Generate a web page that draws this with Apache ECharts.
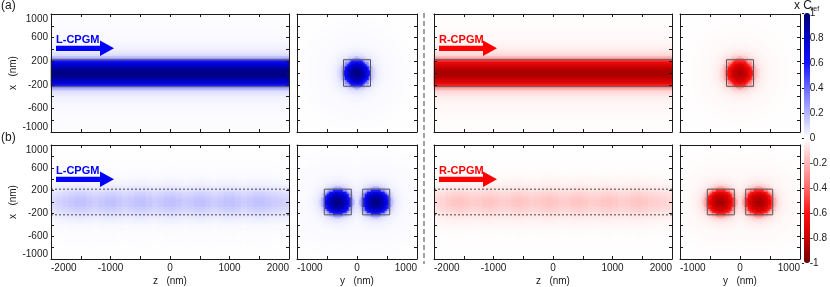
<!DOCTYPE html>
<html><head><meta charset="utf-8">
<script src="https://cdn.jsdelivr.net/npm/echarts@6/dist/echarts.min.js"></script>
<style>html,body{margin:0;padding:0;background:#fff}#c{width:830px;height:287px}</style>
</head><body><div id="c"></div><script>
// ================= DATA =================
const zTickLabels = [-2000, -1000, 0, 1000, 2000];        // z (nm) labels, band panels
const yTickLabels = [-1000, 0, 1000];                     // y (nm) labels, cross-section panels
const xTickLabels = [-1000, -600, -200, 200, 600, 1000];  // x (nm) labels
const cbarTickLabels = [-1, -0.8, -0.6, -0.4, -0.2, 0, 0.2, 0.4, 0.6, 0.8, 1];

const guideHalfWidth = 225;        // nm, waveguide half width (outlines)
const singleCenter = [0];          // nm, single guide centre (row a)
const pairCenters = [-320, 320];   // nm, two guides centre (row b)

// transverse profiles of the band panels, |x| bins of 25 nm (0-25, 25-50, ...)
const bandA_L = [0.95,0.94,0.92,0.89,0.85,0.80,0.74,0.67,0.60,0.30,0.19,0.13,0.095,0.072,0.056,0.045,0.038,0.032,0.028,0.025,0.022,0.020,0.018,0.016,0.015,0.014,0.013,0.012,0.011,0.010,0.010,0.009,0.009,0.008,0.008,0.007,0.007,0.006,0.006,0.005];
const bandA_R = [-0.87,-0.86,-0.84,-0.82,-0.79,-0.75,-0.70,-0.64,-0.57,-0.32,-0.21,-0.15,-0.11,-0.085,-0.066,-0.053,-0.044,-0.037,-0.032,-0.028,-0.025,-0.022,-0.020,-0.018,-0.016,-0.015,-0.014,-0.013,-0.012,-0.011,-0.010,-0.010,-0.009,-0.009,-0.008,-0.008,-0.007,-0.007,-0.006,-0.006];
const bandB_L = [0.17,0.168,0.163,0.155,0.145,0.133,0.12,0.106,0.092,0.078,0.065,0.054,0.045,0.037,0.03,0.025,0.021,0.018,0.015,0.013,0.011,0.010,0.009,0.008,0.007,0.007,0.006,0.006,0.005,0.005,0.005,0.004,0.004,0.004,0.004,0.003,0.003,0.003,0.003,0.003];
const bandB_R = [-0.16,-0.158,-0.154,-0.147,-0.138,-0.127,-0.115,-0.102,-0.089,-0.076,-0.064,-0.054,-0.045,-0.037,-0.031,-0.026,-0.022,-0.018,-0.015,-0.013,-0.011,-0.010,-0.009,-0.008,-0.007,-0.007,-0.006,-0.006,-0.005,-0.005,-0.005,-0.004,-0.004,-0.004,-0.004,-0.003,-0.003,-0.003,-0.003,-0.003];
// relative modulation along z for row (b), 100 nm bins from -2000 to 2000
const bandB_zL = [0.6,0.7,0.8,0.88,0.95,0.95,0.86,0.8,0.86,0.95,0.97,0.88,0.8,0.86,0.95,0.97,0.88,0.8,0.86,0.96,0.98,0.9,0.82,0.86,0.95,0.97,0.88,0.8,0.86,0.95,0.97,0.88,0.8,0.86,0.95,0.95,0.88,0.8,0.75,0.7];
const bandB_zR = [0.6,0.72,0.84,0.93,0.96,0.9,0.82,0.84,0.93,0.97,0.9,0.82,0.84,0.93,0.97,0.9,0.82,0.85,0.94,0.98,0.92,0.83,0.84,0.93,0.97,0.9,0.82,0.84,0.93,0.97,0.9,0.82,0.84,0.93,0.96,0.9,0.82,0.78,0.72,0.66];
// radial profiles of the cross-section panels, r bins of 25 nm
const discA_L = [0.95,0.94,0.92,0.89,0.85,0.80,0.74,0.66,0.57,0.32,0.18,0.11,0.075,0.055,0.043,0.035,0.029,0.025,0.022,0.019,0.017,0.015,0.014,0.013,0.012,0.011,0.010,0.010,0.009,0.008,0.008,0.007,0.007,0.006,0.006,0.005,0.005,0.005,0.004,0.004];
const discA_R = [-0.86,-0.85,-0.83,-0.81,-0.78,-0.74,-0.69,-0.63,-0.55,-0.34,-0.21,-0.14,-0.095,-0.07,-0.054,-0.043,-0.035,-0.03,-0.026,-0.022,-0.019,-0.017,-0.015,-0.014,-0.013,-0.012,-0.011,-0.010,-0.010,-0.009,-0.008,-0.008,-0.007,-0.007,-0.006,-0.006,-0.005,-0.005,-0.005,-0.004];
const discB_L = [0.95,0.94,0.92,0.89,0.85,0.80,0.74,0.66,0.57,0.32,0.18,0.11,0.075,0.055,0.043,0.035,0.029,0.025,0.022,0.019,0.017,0.015,0.014,0.013,0.012,0.011,0.010,0.010,0.009,0.008,0.008,0.007,0.007,0.006,0.006,0.005,0.005,0.005,0.004,0.004];
const discB_R = [-0.88,-0.87,-0.85,-0.83,-0.80,-0.76,-0.71,-0.64,-0.56,-0.34,-0.21,-0.14,-0.095,-0.07,-0.054,-0.043,-0.035,-0.03,-0.026,-0.022,-0.019,-0.017,-0.015,-0.014,-0.013,-0.012,-0.011,-0.010,-0.010,-0.009,-0.008,-0.008,-0.007,-0.007,-0.006,-0.006,-0.005,-0.005,-0.005,-0.004];

// ================= LAYOUT / STYLE =================
const FONT = "'Liberation Sans', Arial, Helvetica, sans-serif";
const INK = '#1a1a1a';
const cmap = ['#6e0000','#c80000','#ff1010','#ff6a6a','#ffb4b4','#ffffff','#b4b4ff','#6a6aff','#1010ff','#0000c8','#00006e'];
const rows = [14, 145], rowH = 118;
const cols = [{l:51,w:238,band:true},{l:297,w:120,band:false},{l:434,w:238,band:true},{l:680,w:120,band:false}];
const NY = 59;   // heatmap rows (2 px each)
const NXD = 60;  // cross-section columns (2 px each)

const panels = [
  {row:0,col:0,kind:'bandA',prof:bandA_L},
  {row:0,col:1,kind:'disc',prof:discA_L,centers:singleCenter},
  {row:0,col:2,kind:'bandA',prof:bandA_R},
  {row:0,col:3,kind:'disc',prof:discA_R,centers:singleCenter},
  {row:1,col:0,kind:'bandB',prof:bandB_L,zmod:bandB_zL},
  {row:1,col:1,kind:'disc',prof:discB_L,centers:pairCenters},
  {row:1,col:2,kind:'bandB',prof:bandB_R,zmod:bandB_zR},
  {row:1,col:3,kind:'disc',prof:discB_R,centers:pairCenters}
];

const idx = n => Array.from({length:n},(_,i)=>i);
const binOf = d => Math.min(39, Math.floor(d/25));
const yc = j => -1000 + (j+0.5)*2000/NY;
const xcD = i => -1000 + (i+0.5)*2000/NXD;

function cellsFor(p){
  const out=[];
  if(p.kind==='bandA'){
    for(let j=0;j<NY;j++) out.push([0,j,p.prof[binOf(Math.abs(yc(j)))]]);
  } else if(p.kind==='bandB'){
    for(let i=0;i<p.zmod.length;i++) for(let j=0;j<NY;j++) out.push([i,j,p.prof[binOf(Math.abs(yc(j)))]*p.zmod[i]]);
  } else {
    for(let i=0;i<NXD;i++) for(let j=0;j<NY;j++){
      let v=0;
      p.centers.forEach(c=>{const w=p.prof[binOf(Math.hypot(xcD(i)-c,yc(j)))]; if(Math.abs(w)>Math.abs(v)) v=w;});
      out.push([i,j,v]);
    }
  }
  return out;
}

function vAxis(extra){
  return Object.assign({type:'value',z:10,
    axisLine:{show:true,onZero:false,lineStyle:{color:INK,width:1}},
    axisTick:{show:true,inside:true,length:3,lineStyle:{color:INK,width:1}},
    splitLine:{show:false},axisLabel:{show:false}}, extra);
}
const lblStyle = {fontSize:10,fontFamily:FONT,color:INK};

const grids=[],xAxes=[],yAxes=[],series=[],heatIdx=[];
panels.forEach((p,g)=>{
  const c=cols[p.col];
  grids.push({left:c.l,top:rows[p.row],width:c.w,height:rowH});
  const xmin=c.band?-2000:-1000, xmax=-xmin;
  const xl=c.band?zTickLabels:yTickLabels;
  const xCat=xAxes.length;
  xAxes.push({gridIndex:g,type:'category',show:false,data:idx(p.kind==='bandA'?1:(p.kind==='bandB'?p.zmod.length:NXD))});
  const xVal=xAxes.length;
  const showX=p.row===1;
  xAxes.push(vAxis({gridIndex:g,position:'bottom',min:xmin,max:xmax,interval:500,
    axisLabel:showX?Object.assign({show:true,margin:4,alignMinLabel:'left',alignMaxLabel:'right',
      formatter:v=>xl.includes(v)?String(v):''},lblStyle):{show:false},
    name:showX?(c.band?'z   (nm)':'y   (nm)'):'',nameLocation:'middle',nameGap:17,
    nameTextStyle:{fontSize:10,fontFamily:FONT,color:INK}}));
  xAxes.push(vAxis({gridIndex:g,position:'top',min:xmin,max:xmax,interval:500}));
  const yCat=yAxes.length;
  yAxes.push({gridIndex:g,type:'category',show:false,data:idx(NY)});
  const yVal=yAxes.length;
  const showY=p.col===0;
  yAxes.push(vAxis({gridIndex:g,position:'left',min:-1000,max:1000,interval:200,
    axisLabel:showY?Object.assign({show:true,margin:3,verticalAlignMaxLabel:'top',verticalAlignMinLabel:'bottom',
      formatter:v=>xTickLabels.includes(v)?String(v):''},lblStyle):{show:false},
    name:showY?'x   (nm)':'',nameLocation:'middle',nameGap:26,
    nameTextStyle:{fontSize:10,fontFamily:FONT,color:INK}}));
  yAxes.push(vAxis({gridIndex:g,position:'right',min:-1000,max:1000,interval:200}));

  heatIdx.push(series.length);
  series.push({type:'heatmap',xAxisIndex:xCat,yAxisIndex:yCat,data:cellsFor(p),
    progressive:0,silent:true,emphasis:{disabled:true},animation:false,z:1});

  const lineBase={type:'line',xAxisIndex:xVal,yAxisIndex:yVal,symbol:'none',silent:true,animation:false,z:5};
  const H=guideHalfWidth;
  if(p.kind==='bandA'||p.kind==='bandB'){
    const ls=p.kind==='bandA'?{color:'#555',width:1}:{color:'#444',width:1,type:[2,2]};
    [H,-H].forEach(yy=>series.push(Object.assign({},lineBase,{data:[[xmin,yy],[xmax,yy]],lineStyle:ls})));
  } else {
    p.centers.forEach(cx=>series.push(Object.assign({},lineBase,{
      data:[[cx-H,-H],[cx+H,-H],[cx+H,H],[cx-H,H],[cx-H,-H]],lineStyle:{color:'#555',width:1}})));
  }
});

// colorbar tick axis
const cg=grids.length;
grids.push({left:804,top:13,width:6,height:250});
xAxes.push({gridIndex:cg,type:'value',show:false,min:0,max:1});
yAxes.push({gridIndex:cg,type:'value',position:'right',min:-1,max:1,interval:0.2,z:10,
  axisLine:{show:false},axisTick:{show:true,inside:true,length:2,lineStyle:{color:INK}},splitLine:{show:false},
  axisLabel:Object.assign({show:true,margin:3,formatter:v=>{const r=Math.round(v*10)/10;return cbarTickLabels.includes(r)?String(r):'';}},lblStyle)});

function arrow(x0,yc,color){
  return {type:'polygon',silent:true,z:20,shape:{points:[[x0,yc-2.6],[x0+44,yc-2.6],[x0+44,yc-7.7],[x0+58,yc],[x0+44,yc+7.7],[x0+44,yc+2.6],[x0,yc+2.6]]},style:{fill:color}};
}
function tag(x0,top,txt,color){
  return {type:'text',left:x0,top:top,z:20,silent:true,style:{text:txt,font:'bold 11px '+FONT,fill:color}};
}
const graphic=[
  {type:'text',left:1,top:0,style:{text:'(a)',font:'12px '+FONT,fill:INK}},
  {type:'text',left:1,top:132,style:{text:'(b)',font:'12px '+FONT,fill:INK}},
  {type:'line',silent:true,shape:{x1:424,y1:13,x2:424,y2:264},style:{stroke:'#8a8a8a',lineWidth:1.6,lineDash:[5,3]}},
  {type:'text',left:794,top:0,style:{text:'x C',font:'12px '+FONT,fill:INK}},
  {type:'text',left:811,top:6,style:{text:'ref',font:'7px '+FONT,fill:INK}}
];
[[56,'L-CPGM','#0000ff'],[439,'R-CPGM','#ff0000']].forEach(([x0,t,col])=>{
  [0,131].forEach(dy=>{graphic.push(arrow(x0,48.3+dy,col));graphic.push(tag(x0,34+dy,t,col));});
});

const chart=echarts.init(document.getElementById('c'),null,{renderer:'canvas'});
chart.setOption({
  animation:false,
  grid:grids,xAxis:xAxes,yAxis:yAxes,series:series,graphic:graphic,
  visualMap:{type:'continuous',min:-1,max:1,seriesIndex:heatIdx,inRange:{color:cmap},orient:'vertical',
    left:804,top:13,itemWidth:6,itemHeight:250,padding:0,calculable:false,hoverLink:false,text:null,z:4}
});
</script></body></html>
